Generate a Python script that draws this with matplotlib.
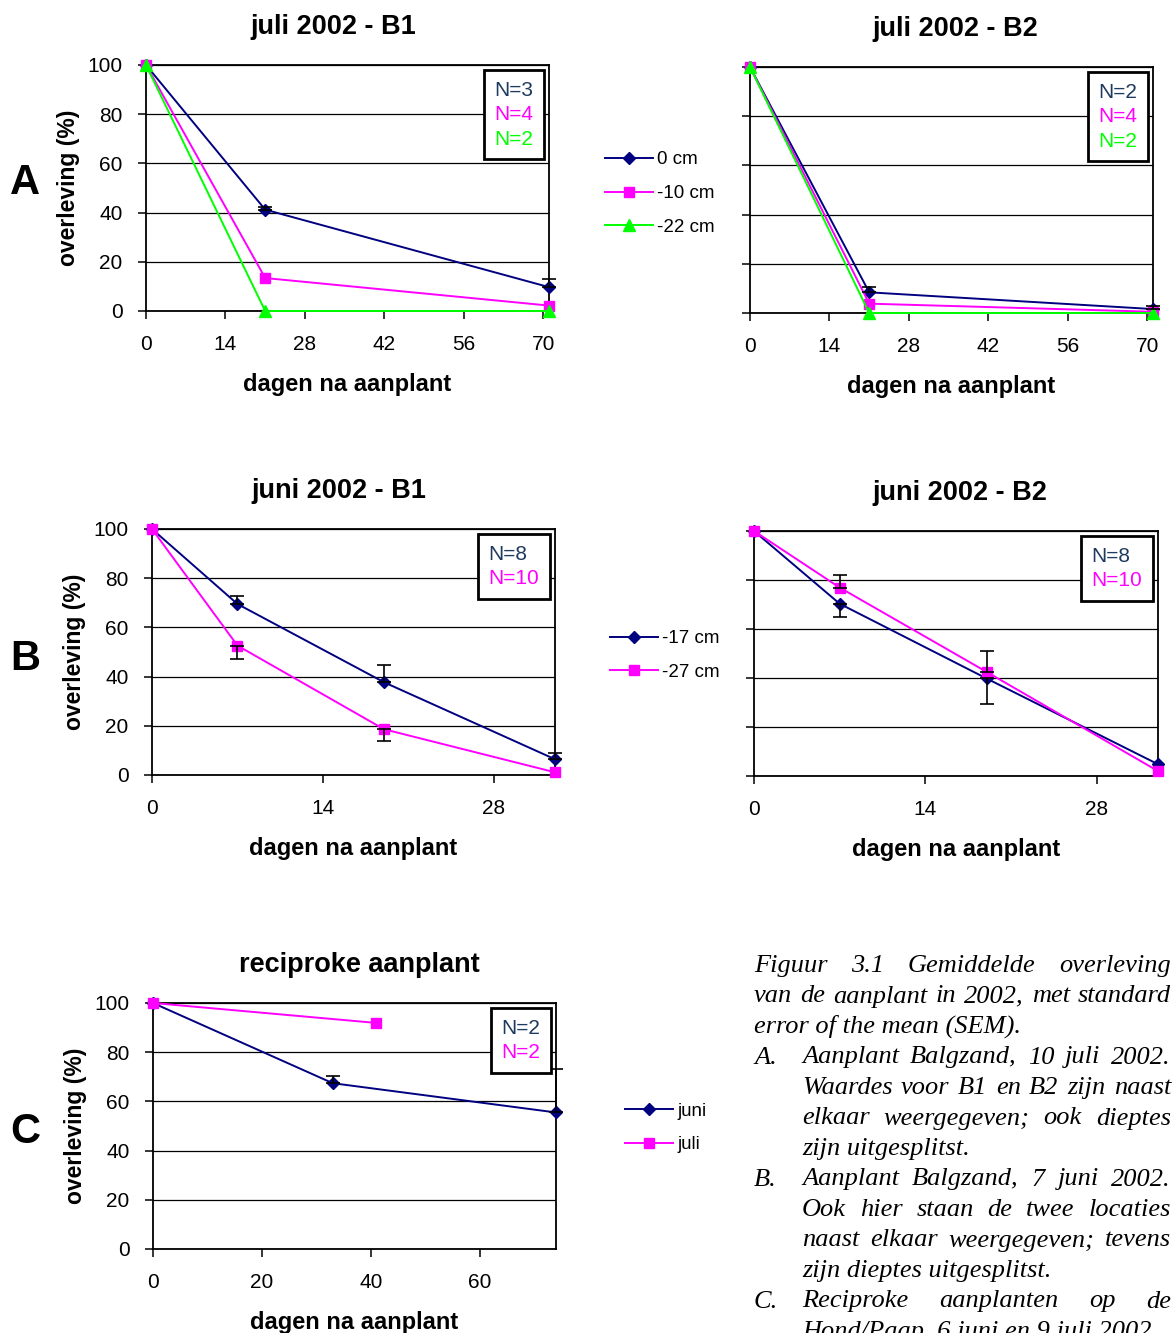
import matplotlib
matplotlib.use("Agg")
import matplotlib.pyplot as plt
from matplotlib.lines import Line2D
import numpy as np

plt.rcParams['font.family'] = ['Liberation Sans', 'DejaVu Sans']

# data
days_a = [0, 21, 71]
a1_0cm = [100, 41.2, 9.7]
a1_0cm_up = [0, 0.9, 3.5]
a1_10cm = [100, 13.4, 2.2]
a1_22cm = [100, 0, 0]
a2_0cm = [100, 8.4, 1.6]
a2_0cm_up = [0, 2.2, 1.1]
a2_10cm = [100, 3.8, 0.5]
a2_22cm = [100, 0, 0]

days_b = [0, 7, 19, 33]
b1_17cm = [100, 69.5, 37.7, 6.4]
b1_17cm_up = [0, 3.4, 7.0, 2.7]
b1_27cm = [100, 52.6, 18.6, 1.1]
b1_27cm_down = [0, 5.4, 4.6, 0]
b2_17cm = [100, 70.3, 39.8, 4.8]
b2_17cm_down = [0, 5.3, 10.5, 0]
b2_27cm = [100, 76.9, 42.5, 2.0]
b2_27cm_up = [0, 5.0, 8.5, 0]

days_juni = [0, 33, 74]
c_juni = [100, 67.4, 55.5]
c_juni_up = [0, 3.0, 17.8]
days_juli = [0, 41]
c_juli = [100, 91.9]

n_a1 = ['N=3', 'N=4', 'N=2']
n_a2 = ['N=2', 'N=4', 'N=2']
n_b = ['N=8', 'N=10']
n_c = ['N=2', 'N=2']

NAVY = '#000080'
MAG = '#FF00FF'
GRN = '#00FF00'
NTXT = '#1F3A60'

W, H = 1172, 1333
fig = plt.figure(figsize=(W / 100, H / 100), dpi=100)


def box(l, r, t, b):
    return [l / W, 1 - b / H, (r - l) / W, (b - t) / H]


def style_axes(ax, xmax, xticks, show_ylabels=True):
    ax.set_xlim(0, xmax)
    ax.set_ylim(0, 100)
    ax.set_xticks(xticks)
    ax.set_yticks([0, 20, 40, 60, 80, 100])
    ax.yaxis.grid(True, color='black', lw=0.9)
    ax.set_axisbelow(True)
    for s in ax.spines.values():
        s.set_linewidth(1.3)
    ax.tick_params(direction='out', length=6, width=1.1, labelsize=15, pad=11)
    ax.tick_params(axis='x', pad=11)
    if not show_ylabels:
        ax.set_yticklabels([])
    else:
        ax.set_ylabel('overleving (%)', fontsize=16.5, fontweight='bold', labelpad=5)
    ax.set_xlabel('dagen na aanplant', fontsize=17, fontweight='bold', labelpad=14)


def n_box(ax, labels, colors):
    hs = [Line2D([], [], linestyle='none') for _ in labels]
    leg = ax.legend(hs, labels, loc='upper right', handlelength=0, handletextpad=0,
                    fontsize=15, labelcolor=colors, frameon=True, fancybox=False,
                    edgecolor='black', framealpha=1, borderaxespad=0.25,
                    labelspacing=0.27, borderpad=0.5)
    leg.get_frame().set_linewidth(2)


def series(ax, x, y, color, marker, ms, err_lo=None, err_hi=None):
    ln, = ax.plot(x, y, color=color, marker=marker, ms=ms, lw=1.4,
                  mec=color, mfc=color, clip_on=False, zorder=3)
    if err_lo is not None or err_hi is not None:
        lo = np.array(err_lo if err_lo is not None else [0] * len(x), float)
        hi = np.array(err_hi if err_hi is not None else [0] * len(x), float)
        keep = (lo + hi) > 0
        ax.errorbar(np.array(x)[keep], np.array(y)[keep], yerr=[lo[keep], hi[keep]],
                    fmt='none', ecolor='black', elinewidth=1.2, capsize=5,
                    capthick=1.2, clip_on=False, zorder=4)
    return ln


def title(ax, text, xfrac):
    ax.set_title(text, fontsize=19.5, fontweight='bold', pad=22, x=xfrac)


# A: juli 2002
ax = fig.add_axes(box(146, 549, 65, 311))
l1 = series(ax, days_a, a1_0cm, NAVY, 'D', 6.3, err_hi=a1_0cm_up)
l2 = series(ax, days_a, a1_10cm, MAG, 's', 7.5)
l3 = series(ax, days_a, a1_22cm, GRN, '^', 9)
style_axes(ax, 71, [0, 14, 28, 42, 56, 70])
title(ax, 'juli 2002 - B1', 0.464)
n_box(ax, n_a1, [NTXT, MAG, GRN])

ax = fig.add_axes(box(750, 1153, 67, 313))
series(ax, days_a, a2_0cm, NAVY, 'D', 6.3, err_hi=a2_0cm_up)
series(ax, days_a, a2_10cm, MAG, 's', 7.5)
series(ax, days_a, a2_22cm, GRN, '^', 9)
style_axes(ax, 71, [0, 14, 28, 42, 56, 70], show_ylabels=False)
title(ax, 'juli 2002 - B2', 0.509)
n_box(ax, n_a2, [NTXT, MAG, GRN])

leg_kw = dict(loc='center left', frameon=False, fontsize=13.5, handlelength=2.55,
              handletextpad=0.25, labelspacing=0.88, numpoints=1)
fig.legend([l1, l2, l3], ['0 cm', '-10 cm', '-22 cm'],
           bbox_to_anchor=(588 / W, 1 - 193.5 / H), **leg_kw)

# B: juni 2002
ax = fig.add_axes(box(152, 555, 529, 775))
m1 = series(ax, days_b, b1_17cm, NAVY, 'D', 6.3, err_hi=b1_17cm_up)
m2 = series(ax, days_b, b1_27cm, MAG, 's', 7.5, err_lo=b1_27cm_down)
style_axes(ax, 33, [0, 14, 28])
title(ax, 'juni 2002 - B1', 0.464)
n_box(ax, n_b, [NTXT, MAG])

ax = fig.add_axes(box(754, 1158, 531, 776))
series(ax, days_b, b2_17cm, NAVY, 'D', 6.3, err_lo=b2_17cm_down)
series(ax, days_b, b2_27cm, MAG, 's', 7.5, err_hi=b2_27cm_up)
style_axes(ax, 33, [0, 14, 28], show_ylabels=False)
title(ax, 'juni 2002 - B2', 0.510)
n_box(ax, n_b, [NTXT, MAG])

fig.legend([m1, m2], ['-17 cm', '-27 cm'],
           bbox_to_anchor=(593 / W, 1 - 655.5 / H), **leg_kw)

# C: reciproke aanplant
ax = fig.add_axes(box(153, 556, 1003, 1249))
k1 = series(ax, days_juni, c_juni, NAVY, 'D', 6.3, err_hi=c_juni_up)
k2 = series(ax, days_juli, c_juli, MAG, 's', 7.5)
style_axes(ax, 74, [0, 20, 40, 60])
title(ax, 'reciproke aanplant', 0.512)
n_box(ax, n_c, [NTXT, MAG])

fig.legend([k1, k2], ['juni', 'juli'],
           bbox_to_anchor=(608 / W, 1 - 1128 / H), **leg_kw)

# panel letters
for letter, yc in [('A', 183), ('B', 659), ('C', 1132)]:
    fig.text(25 / W, 1 - yc / H, letter, fontsize=30, fontweight='bold',
             ha='center', va='center')

# caption, justified
cap_kw = dict(fontsize=19, fontstyle='italic', family='Liberation Serif', va='baseline')
renderer = fig.canvas.get_renderer()


def cap_line(text, x0, yb, x1=None):
    y = 1 - yb / H
    if x1 is None:
        fig.text(x0 / W, y, text, **cap_kw)
        return
    words = text.split()
    texts = [fig.text(0, y, w, **cap_kw) for w in words]
    widths = [t.get_window_extent(renderer).width for t in texts]
    gap = (x1 - x0 - sum(widths)) / (len(words) - 1)
    x = x0
    for t, w in zip(texts, widths):
        t.set_x(x / W)
        x += w + gap


L, IND, R = 754, 802, 1171
base, step = 972, 30.5
lines = [
    ('Figuur 3.1 Gemiddelde overleving', L, True),
    ('van de aanplant in 2002, met standard', L, True),
    ('error of the mean (SEM).', L, False),
    ('Aanplant Balgzand, 10 juli 2002.', IND, True),
    ('Waardes voor B1 en B2 zijn naast', IND, True),
    ('elkaar weergegeven; ook dieptes', IND, True),
    ('zijn uitgesplitst.', IND, False),
    ('Aanplant Balgzand, 7 juni 2002.', IND, True),
    ('Ook hier staan de twee locaties', IND, True),
    ('naast elkaar weergegeven; tevens', IND, True),
    ('zijn dieptes uitgesplitst.', IND, False),
    ('Reciproke aanplanten op de', IND, True),
    ('Hond/Paap, 6 juni en 9 juli 2002.', IND, False),
]
for i, (txt, x0, just) in enumerate(lines):
    cap_line(txt, x0, base + i * step, R if just else None)
for lab, i in [('A.', 3), ('B.', 7), ('C.', 11)]:
    cap_line(lab, L, base + i * step)

fig.savefig('out.png', dpi=100)
